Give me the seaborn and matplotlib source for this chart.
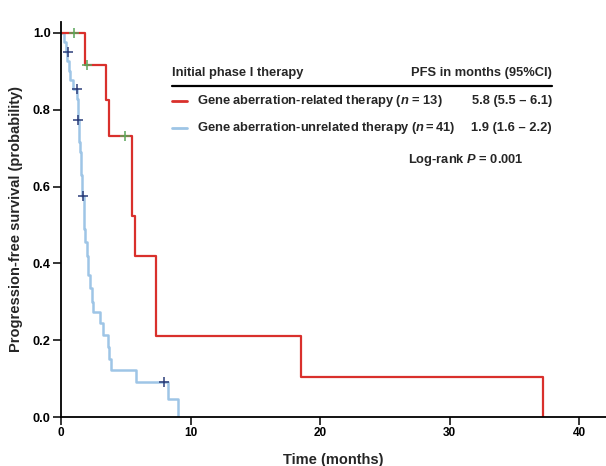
import matplotlib
matplotlib.use("Agg")
import matplotlib.pyplot as plt
import seaborn as sns
import pandas as pd

# ---- data ----
red_time = [0, 1.85, 3.5, 3.7, 5.5, 5.72, 7.3, 18.5, 37.2]
red_surv = [1.0, 0.917, 0.825, 0.733, 0.524, 0.419, 0.21, 0.105, 0.0]
red_cens_time = [1.0, 2.0, 4.95]
red_cens_surv = [1.0, 0.917, 0.733]

blue_time = [0, 0.25, 0.35, 0.45, 0.6, 0.7, 0.95, 1.25, 1.28, 1.31, 1.38, 1.41,
             1.47, 1.52, 1.56, 1.6, 1.64, 1.75, 1.78, 1.8, 1.83, 1.98, 2.05,
             2.1, 2.24, 2.37, 2.45, 3.0, 3.27, 3.62, 3.68, 3.86, 5.77, 8.3, 9.0]
blue_surv = [1.0, 0.976, 0.951, 0.927, 0.902, 0.878, 0.853, 0.827, 0.80, 0.774,
             0.745, 0.717, 0.69, 0.66, 0.63, 0.60, 0.576, 0.55, 0.52, 0.49,
             0.456, 0.42, 0.395, 0.37, 0.336, 0.30, 0.274, 0.244, 0.214, 0.183,
             0.152, 0.122, 0.092, 0.046, 0.0]
blue_cens_time = [0.52, 1.2, 1.34, 1.67, 7.95]
blue_cens_surv = [0.951, 0.853, 0.774, 0.576, 0.092]

x_ticks = [0, 10, 20, 30, 40]
y_ticks = [0.0, 0.2, 0.4, 0.6, 0.8, 1.0]

groups = ["Gene aberration-related therapy", "Gene aberration-unrelated therapy"]
n_labels = ["($n$ = 13)", "($n\\,$=$\\,$41)"]
pfs_text = ["5.8 (5.5 \u2013 6.1)", "1.9 (1.6 \u2013 2.2)"]

RED = "#d9302c"
BLUE = "#9ec5e6"
RED_CENS = "#5aa55a"
BLUE_CENS = "#2c3e7a"

sns.set_theme(style="ticks")
plt.rcParams["font.family"] = ["Liberation Sans", "DejaVu Sans"]
plt.rcParams["font.weight"] = "bold"
plt.rcParams["mathtext.fontset"] = "custom"
plt.rcParams["mathtext.it"] = "Liberation Sans:italic:bold"
plt.rcParams["mathtext.rm"] = "Liberation Sans:bold"

fig = plt.figure(figsize=(6.06, 4.66), dpi=100)
ax = fig.add_axes([61 / 606, 49 / 466, 545 / 606, (417 - 22) / 466])

red_df = pd.DataFrame({"t": red_time, "s": red_surv})
blue_df = pd.DataFrame({"t": blue_time, "s": blue_surv})

sns.lineplot(data=blue_df, x="t", y="s", ax=ax, color=BLUE, lw=1.8,
             drawstyle="steps-post", estimator=None, sort=False)
sns.lineplot(data=red_df, x="t", y="s", ax=ax, color=RED, lw=1.6,
             drawstyle="steps-post", estimator=None, sort=False)
sns.scatterplot(x=blue_cens_time, y=blue_cens_surv, ax=ax, marker="+",
                color=BLUE_CENS, s=55, linewidth=1.1, zorder=5)
sns.scatterplot(x=red_cens_time, y=red_cens_surv, ax=ax, marker="+",
                color=RED_CENS, s=55, linewidth=1.1, zorder=5)

ax.set_xlim(0, 545 / 12.95)
ax.set_ylim(0, 1.0 + 11 / 384)
ax.set_xticks(x_ticks)
ax.set_yticks(y_ticks)
ax.set_xticklabels([str(v) for v in x_ticks], fontsize=8.5, fontweight="bold")
ax.set_yticklabels([f"{v:.1f}" for v in y_ticks], fontsize=9.2, fontweight="bold")
ax.tick_params(direction="out", length=5.5, width=1.1, colors="black", pad=2)
sns.despine(ax=ax)
for sp in ["left", "bottom"]:
    ax.spines[sp].set_linewidth(1.3)
    ax.spines[sp].set_color("black")
ax.set_xlabel("Time (months)", fontsize=10.5, fontweight="bold", labelpad=10)
ax.set_ylabel("Progression-free survival (probability)", fontsize=10.5,
              fontweight="bold", labelpad=7)
ax.grid(False)

# ---- custom legend table ----
def fx(px):
    return px / 606

def fy(py):
    return 1 - py / 466

fs = 9.3
fig.text(fx(172), fy(73), "Initial phase I therapy", fontsize=fs,
         fontweight="bold", va="center", ha="left")
fig.text(fx(552), fy(73), "PFS in months (95%CI)", fontsize=fs,
         fontweight="bold", va="center", ha="right")
fig.add_artist(plt.Line2D([fx(172), fx(552)], [fy(86), fy(86)],
                          color="black", lw=1.6, transform=fig.transFigure))
rows_y = [101, 128]
colors = [RED, BLUE]
for g, nl, p, yy, c in zip(groups, n_labels, pfs_text, rows_y, colors):
    fig.add_artist(plt.Line2D([fx(172), fx(187)], [fy(yy), fy(yy)], color=c,
                              lw=2.0, transform=fig.transFigure))
    fig.text(fx(197), fy(yy), f"{g} {nl}", fontsize=fs,
             fontweight="bold", va="center", ha="left")
    fig.text(fx(552), fy(yy), p, fontsize=fs, fontweight="bold",
             va="center", ha="right")
fig.text(fx(408), fy(160), "Log-rank $P$ = 0.001", fontsize=fs,
         fontweight="bold", va="center", ha="left")

fig.savefig("out.png", dpi=100, facecolor="white")
